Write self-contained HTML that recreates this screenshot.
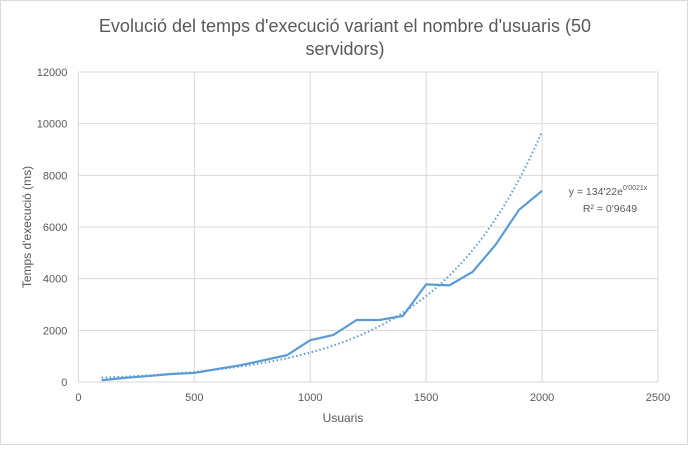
<!DOCTYPE html>
<html><head><meta charset="utf-8"><style>
body{margin:0;background:#fff;font-family:"Liberation Sans",sans-serif;}
svg text{font-family:"Liberation Sans",sans-serif;fill:#595959;}
</style></head><body>
<svg width="688" height="445">
<rect x="0.5" y="0.5" width="687" height="444" fill="#fff" stroke="#d9d9d9"/>
<text x="345" y="32" text-anchor="middle" font-size="18">Evolució del temps d'execució variant el nombre d'usuaris (50</text>
<text x="345" y="55" text-anchor="middle" font-size="18">servidors)</text>
<g id="grid"></g><g id="ticks"></g>
<text x="343" y="422" text-anchor="middle" font-size="12">Usuaris</text>
<text transform="translate(31,227) rotate(-90)" text-anchor="middle" font-size="12">Temps d'execució (ms)</text>
<path id="series" fill="none" stroke="#5b9bd5" stroke-width="2.2" stroke-linejoin="round"/>
<path id="trend" fill="none" stroke="#5b9bd5" stroke-width="2" stroke-dasharray="1.5 2.5"/>
<text x="608" y="195" text-anchor="middle" font-size="10.5">y = 134'22e<tspan font-size="7" dy="-5">0'0021x</tspan></text>
<text x="610" y="212" text-anchor="middle" font-size="10.5">R² = 0'9649</text>
</svg>
<script>
const users=[100,200,300,400,500,600,700,800,900,1000,1100,1200,1300,1400,1500,1600,1700,1800,1900,2000];
const times=[65,160,230,310,350,505,650,845,1040,1620,1820,2400,2400,2560,3780,3740,4260,5320,6660,7400];
const xTicks=[0,500,1000,1500,2000,2500];
const yTicks=[0,2000,4000,6000,8000,10000,12000];
const trendA=134.22, trendB=0.00214;
const X=v=>78.4+v*(658-78.4)/2500;
const Y=v=>382-v*(382-72)/12000;
const ns="http://www.w3.org/2000/svg";
const grid=document.getElementById('grid'),ticks=document.getElementById('ticks');
yTicks.forEach(t=>{
 const l=document.createElementNS(ns,'line');
 l.setAttribute('x1',X(0));l.setAttribute('x2',X(2500));l.setAttribute('y1',Y(t));l.setAttribute('y2',Y(t));
 l.setAttribute('stroke','#d9d9d9');
 
 
 grid.appendChild(l);
 const tx=document.createElementNS(ns,'text');
 tx.setAttribute('x',X(0)-11);tx.setAttribute('y',Y(t)+4);tx.setAttribute('text-anchor','end');tx.setAttribute('font-size','11');
 tx.textContent=t;
 
 
 ticks.appendChild(tx);
});
xTicks.forEach(t=>{
 const l=document.createElementNS(ns,'line');
 l.setAttribute('x1',X(t));l.setAttribute('x2',X(t));l.setAttribute('y1',Y(0));l.setAttribute('y2',Y(12000));
 l.setAttribute('stroke','#d9d9d9');
 
 
 grid.appendChild(l);
 const tx=document.createElementNS(ns,'text');
 tx.setAttribute('x',X(t));tx.setAttribute('y',Y(0)+19);tx.setAttribute('text-anchor','middle');tx.setAttribute('font-size','11');
 tx.textContent=t;
 
 
 ticks.appendChild(tx);
});
document.getElementById('series').setAttribute('d',users.map((u,i)=>(i?'L':'M')+X(u)+','+Y(times[i])).join(''));
let d='';
for(let u=users[0];u<=users[users.length-1];u+=20){d+=(d?'L':'M')+X(u)+','+Y(trendA*Math.exp(trendB*u));}
document.getElementById('trend').setAttribute('d',d);
</script>
</body></html>
